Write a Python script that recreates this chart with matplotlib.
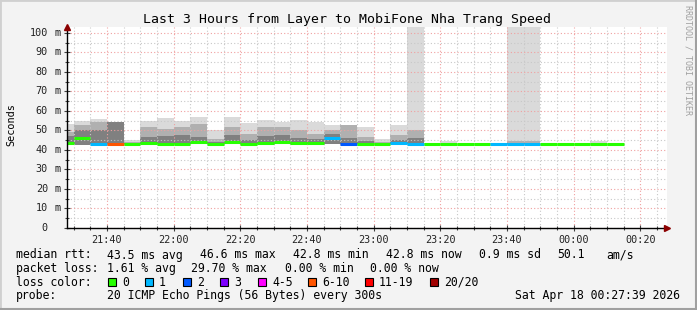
import matplotlib
matplotlib.use("Agg")
import matplotlib.pyplot as plt
from matplotlib.patches import Rectangle
from matplotlib.lines import Line2D
import numpy as np

# ---------------- data ----------------
step_times = ["21:25", "21:30", "21:35", "21:40", "21:45", "21:50", "21:55",
              "22:00", "22:05", "22:10", "22:15", "22:20", "22:25", "22:30",
              "22:35", "22:40", "22:45", "22:50", "22:55", "23:00", "23:05",
              "23:10", "23:15", "23:20", "23:25", "23:30", "23:35", "23:40",
              "23:45", "23:50", "23:55", "00:00", "00:05", "00:10"]

median_ms = [43.8, 46.3, 43.1, 43.1, 42.8, 43.6, 43.2, 43.1, 43.9, 43.1, 43.9, 43.2,
             43.6, 44.1, 43.6, 43.6, 46.2, 42.8, 43.1, 42.8, 43.8, 42.9, 42.8, 42.8,
             42.8, 42.8, 42.8, 42.8, 42.8, 42.8, 42.8, 42.8, 42.8, 42.8]

loss_count = [0, 0, 1, 6, 0, 0, 0, 0, 0, 0, 0, 0, 0, 0, 0, 0, 1, 2, 0, 0, 1, 1,
              0, 0, 0, 0, 1, 1, 1, 0, 0, 0, 0, 0]

smoke_max = [53.2, 54.9, 56.1, 54.4, 45.0, 54.7, 56.6, 54.9, 57.1, 50.1, 56.9, 53.8,
             55.2, 54.4, 55.2, 54.4, 52.7, 52.7, 51.8, 45.8, 53.0, 150.0, 43.5, 44.8,
             43.3, 43.8, 43.4, 150.0, 150.0, 43.3, 43.3, 43.3, 44.8, 43.3]

smoke_hi = [49.2, 52.7, 54.4, 54.4, 44.2, 51.8, 50.9, 51.8, 53.5, 45.8, 51.8, 48.4,
            51.8, 51.8, 50.1, 48.0, 50.1, 52.7, 46.7, 44.0, 47.5, 50.1, 43.2, 43.3,
            43.2, 43.2, 43.2, 44.5, 44.5, 43.2, 43.2, 43.2, 43.3, 43.2]

smoke_core = [47.0, 50.1, 50.2, 54.4, 43.5, 46.7, 47.0, 47.5, 46.5, 44.0, 47.5, 45.0,
              47.0, 47.5, 46.0, 45.5, 48.0, 46.0, 44.5, 43.2, 45.0, 46.0, 43.0, 43.0,
              43.0, 43.0, 43.0, 43.4, 43.4, 43.0, 43.0, 43.0, 43.0, 43.0]

smoke_min = [43.2, 42.4, 42.6, 42.6, 42.4, 42.9, 42.7, 42.7, 42.9, 42.6, 43.0, 42.7,
             42.8, 43.0, 42.9, 42.9, 42.9, 42.4, 42.6, 42.4, 42.7, 42.6, 42.5, 42.5,
             42.5, 42.5, 42.5, 42.5, 42.5, 42.5, 42.5, 42.5, 42.5, 42.5]

x_tick_labels = ["21:40", "22:00", "22:20", "22:40", "23:00", "23:20", "23:40", "00:00", "00:20"]
y_tick_values = [0, 10, 20, 30, 40, 50, 60, 70, 80, 90, 100]

loss_legend = ["0", "1", "2", "3", "4-5", "6-10", "11-19", "20/20"]
loss_colors = ["#26ff00", "#00b8ff", "#0059ff", "#7e00ff", "#ff00ff", "#ff5500", "#ff0000", "#a00000"]

title = "Last 3 Hours from Layer to MobiFone Nha Trang Speed"
row_rtt = ["median rtt:", "43.5 ms avg", "46.6 ms max", "42.8 ms min", "42.8 ms now",
           "0.9 ms sd", "50.1", "am/s"]
row_loss = ["packet loss:", "1.61 % avg", "29.70 % max", "0.00 % min", "0.00 % now"]
probe_text = "20 ICMP Echo Pings (56 Bytes) every 300s"
date_text = "Sat Apr 18 00:27:39 2026"

# ---------------- helpers ----------------
def to_min(s):
    h, m = map(int, s.split(":"))
    t = h * 60 + m
    if h < 12:
        t += 24 * 60
    return t

def loss_color(n):
    if n == 0:
        return loss_colors[0]
    if n == 1:
        return loss_colors[1]
    if n == 2:
        return loss_colors[2]
    if n == 3:
        return loss_colors[3]
    if n <= 5:
        return loss_colors[4]
    if n <= 10:
        return loss_colors[5]
    if n <= 19:
        return loss_colors[6]
    return loss_colors[7]

x0 = np.array([to_min(s) for s in step_times], dtype=float)
step = 5.0

W, H = 697, 310
fig = plt.figure(figsize=(W / 100, H / 100), dpi=100)
fig.patch.set_facecolor("#f3f3f3")

MONO = "DejaVu Sans Mono"

# frame of the canvas
fig.add_artist(Rectangle((0, 0), 1, 1, transform=fig.transFigure, fill=False,
                         edgecolor="#d0d0d0", linewidth=2.0))
fig.add_artist(Line2D([1 - 1.5 / W, 1 - 1.5 / W], [0, 1], transform=fig.transFigure,
                      color="#a0a0a0", linewidth=1.5))
fig.add_artist(Line2D([0, 1], [1.5 / H, 1.5 / H], transform=fig.transFigure,
                      color="#a0a0a0", linewidth=1.5))

left, right, top, bottom = 67, 667, 27, 228
ax = fig.add_axes([left / W, (H - bottom) / H, (right - left) / W, (bottom - top) / H])
ax.set_facecolor("white")

xmin, xmax = to_min("21:28"), to_min("00:28")
ax.set_xlim(xmin, xmax)
ax.set_ylim(0, 103)

# smoke layers
mx = np.array(smoke_max); hi = np.array(smoke_hi); co = np.array(smoke_core); mn = np.array(smoke_min)
ax.bar(x0, mx - mn, bottom=mn, width=step, align="edge", color="#dadada", linewidth=0, zorder=1)
ax.bar(x0, hi - mn, bottom=mn, width=step, align="edge", color="#b0b0b0", linewidth=0, zorder=1.1)
ax.bar(x0, co - mn, bottom=mn, width=step, align="edge", color="#808080", linewidth=0, zorder=1.2)

# grid
ax.set_yticks(y_tick_values)
ax.set_yticks(np.arange(5, 103, 10), minor=True)
xt = [to_min(s) for s in x_tick_labels]
ax.set_xticks(xt)
ax.set_xticks(np.arange(to_min("21:30"), xmax, 5), minor=True)
ax.grid(which="minor", color="#c8c8c8", linestyle=(0, (1, 2)), linewidth=0.8, zorder=2)
ax.grid(which="major", color="#f0a0a0", linestyle=(0, (1, 2)), linewidth=0.8, zorder=2)
ax.set_axisbelow(False)

# median line
ax.hlines(median_ms, x0, x0 + step, colors=[loss_color(n) for n in loss_count],
          linewidth=2.2, zorder=3)

for s in ["top", "right"]:
    ax.spines[s].set_visible(False)
for s in ["left", "bottom"]:
    ax.spines[s].set_color("#000000")
    ax.spines[s].set_linewidth(1.0)
    ax.spines[s].set_zorder(4)

ax.tick_params(axis="both", which="major", direction="inout", length=4, width=0.8, color="#404040")
ax.tick_params(axis="both", which="minor", direction="inout", length=2.5, width=0.8, color="#404040")
ax.set_xticklabels(x_tick_labels, fontfamily=MONO, fontsize=7.3, color="#222222")
ax.tick_params(axis="x", which="major", pad=3)
ax.set_yticklabels([])

# y labels: number right aligned, " m" unit
for v in y_tick_values:
    ax.annotate(str(v), xy=(0, v), xycoords=("axes fraction", "data"),
                xytext=(-19 * 0.72, 0), textcoords="offset points",
                ha="right", va="center", fontfamily=MONO, fontsize=7.3, color="#222222")
    if v != 0:
        ax.annotate("m", xy=(0, v), xycoords=("axes fraction", "data"),
                    xytext=(-12.5 * 0.72, 0), textcoords="offset points",
                    ha="left", va="center", fontfamily=MONO, fontsize=7.3, color="#222222")

# arrows
ax.plot([1.0], [0], marker=">", color="#8b0000", markersize=5, clip_on=False,
        transform=ax.transAxes, zorder=5)
ax.plot([0], [1.0], marker="^", color="#8b0000", markersize=5, clip_on=False,
        transform=ax.transAxes, zorder=5)

# titles and side text
fig.text(347 / W, 1 - 19 / H, title, ha="center", va="center", fontfamily=MONO, fontsize=9.5)
fig.text(11 / W, 1 - 125 / H, "Seconds", rotation=90, ha="center", va="center",
         fontfamily=MONO, fontsize=7.3)
fig.text(688 / W, 1 - 5 / H, "RRDTOOL / TOBI OETIKER", rotation=270, ha="center", va="top",
         fontfamily=MONO, fontsize=6, color="#a0a0a0")

# legend rows
FS = 8.3
def ftxt(x, y, s, **kw):
    fig.text(x / W, 1 - y / H, s, va="center", fontfamily=MONO, fontsize=FS, **kw)

rtt_x = [16, 107, 200, 293, 386, 479, 557, 606]
for x, s in zip(rtt_x, row_rtt):
    ftxt(x, 255, s)
loss_x = [16, 107, 191, 285, 370]
for x, s in zip(loss_x, row_loss):
    ftxt(x, 268.5, s)
ftxt(16, 282, "loss color:")
box_x = [108, 145, 183, 220, 258, 308, 365, 430]
for x, lab, c in zip(box_x, loss_legend, loss_colors):
    fig.add_artist(Rectangle((x / W, 1 - 286 / H), 8 / W, 8 / H, transform=fig.transFigure,
                             facecolor=c, edgecolor="black", linewidth=0.8))
    ftxt(x + 14, 282, lab)
ftxt(16, 296, "probe:")
ftxt(107, 296, probe_text)
ftxt(680, 296, date_text, ha="right")

fig.savefig("out.png", dpi=100, facecolor=fig.get_facecolor())
